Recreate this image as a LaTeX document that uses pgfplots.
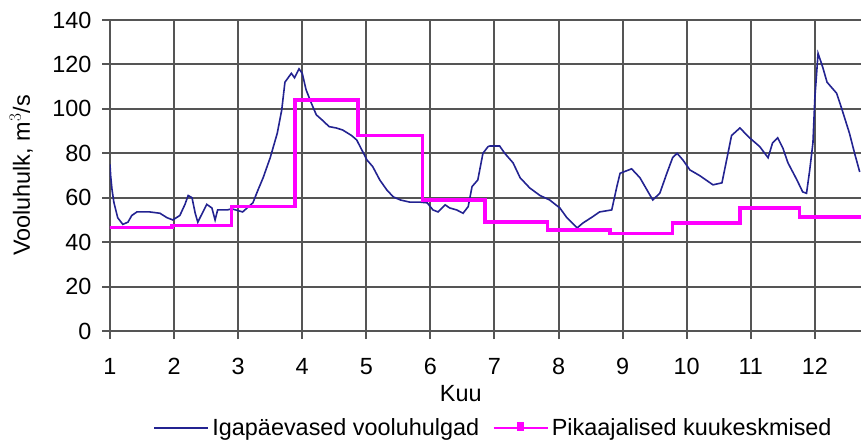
\documentclass[border=0pt]{standalone}
\usepackage{pgfplots}
\pgfplotsset{compat=1.18}
\usepackage{fontspec}
\setmainfont{Liberation Sans}

\definecolor{flowblue}{RGB}{35,35,145}
\definecolor{meanpink}{RGB}{255,0,255}
\definecolor{gridgray}{RGB}{85,85,85}

\begin{document}
\begin{tikzpicture}
\begin{axis}[
  scale only axis,
  width=751bp, height=311bp,
  xmin=1, xmax=12.72,
  ymin=0, ymax=140,
  xtick={1,...,12},
  ytick={0,20,...,140},
  axis x line*=bottom,
  axis y line*=left,
  axis line style={gridgray, line width=2bp},
  grid=major,
  major grid style={gridgray, line width=2bp},
  tick align=outside,
  major tick length=8bp,
  tick style={gridgray, line width=2bp},
  /pgf/number format/assume math mode=true,
  tick label style={font=\fontsize{23.5}{27}\selectfont},
  xticklabel style={yshift=-16bp},
  yticklabel style={xshift=-7bp},
  label style={font=\fontsize{23.5}{27}\selectfont},
  xlabel={Kuu},
  xlabel style={at={(axis description cs:0.467,-0.2)}, anchor=center},
  ylabel={Vooluhulk, m$^3$/s},
  ylabel style={at={(axis description cs:-0.118,0.5)}, anchor=center},
  legend columns=2,
  legend style={at={(axis description cs:0.511,-0.312)}, anchor=center, draw=none,
    font=\fontsize{23.5}{27}\selectfont, nodes={inner xsep=3bp},
    /tikz/every even column/.append style={column sep=10bp}},
]
% daily flows
\addplot[flowblue, line width=1.6bp, legend image code/.code={\draw[flowblue, line width=2.5bp] (0bp,0bp) -- (54bp,0bp);}] coordinates {
  (1.00,75) (1.01,70) (1.03,64) (1.06,58) (1.12,51) (1.20,48) (1.28,49) (1.34,52)
  (1.42,53.6) (1.62,53.6) (1.78,53) (1.89,51) (1.98,50) (2.09,52) (2.17,57)
  (2.22,61) (2.28,60) (2.33,53) (2.37,49) (2.44,53) (2.51,57) (2.59,55.4)
  (2.64,50) (2.68,54.5) (2.83,54.5) (2.90,55) (3.07,53.6) (3.23,57.7) (3.31,63.5)
  (3.39,69) (3.50,78) (3.61,89) (3.68,99.5) (3.73,112) (3.78,114) (3.83,116)
  (3.88,114) (3.95,118) (4.00,116) (4.06,108.6) (4.14,102.7) (4.22,97.3)
  (4.31,95) (4.42,92) (4.53,91.4) (4.63,90.5) (4.77,88) (4.85,86) (4.93,81.5)
  (5.01,77) (5.10,74) (5.21,68) (5.32,63.5) (5.42,60.4) (5.53,59) (5.68,58)
  (5.84,58) (5.95,57.7) (6.04,54.5) (6.12,53.6) (6.23,56.8) (6.30,55.4)
  (6.41,54.5) (6.51,53) (6.59,56) (6.65,65) (6.74,68) (6.82,80) (6.90,83)
  (6.93,83.3) (7.08,83.3) (7.16,80) (7.29,75.7) (7.40,69) (7.55,64.4) (7.71,61)
  (7.86,59) (8.02,55.4) (8.13,51) (8.29,46.4) (8.38,48.6) (8.53,51.4) (8.64,53.6)
  (8.83,54.5) (8.91,65) (8.96,71) (9.14,73) (9.27,69) (9.38,63.5) (9.47,59)
  (9.58,62) (9.69,71) (9.78,78) (9.85,80) (9.94,77) (10.05,72.5) (10.20,70)
  (10.41,65.8) (10.55,66.7) (10.63,78) (10.70,88) (10.83,91.4) (10.98,87)
  (11.14,83) (11.27,78) (11.34,84.7) (11.42,87) (11.50,82.4) (11.58,75.7)
  (11.72,68) (11.81,62.6) (11.87,62) (11.92,72.5) (11.97,84.7) (12.00,105)
  (12.05,125) (12.12,119) (12.19,112) (12.34,107) (12.42,100) (12.54,89)
  (12.62,80) (12.70,71.6)
};
\addlegendentry{Igapäevased vooluhulgad}
% long-term monthly means
\addplot[meanpink, line width=3.5bp, const plot, legend image code/.code={
    \draw[meanpink, line width=2.5bp] (0bp,0bp) -- (54bp,0bp);
    \fill[meanpink] (25bp,-1.5bp) rectangle (29bp,4bp);}] coordinates {
  (0.95,46.5) (1.97,47.5) (2.90,56) (3.89,104) (4.87,88) (5.88,59) (6.85,49)
  (7.83,45.5) (8.80,44) (9.78,48.6) (10.83,55.4) (11.76,51.4) (12.80,51.4)
};
\addlegendentry{Pikaajalised kuukeskmised}
\end{axis}
\pgfresetboundingbox
\path[use as bounding box] ([xshift=-110bp,yshift=-109bp]current axis.south west)
  rectangle ([yshift=20bp]current axis.north east);
\end{tikzpicture}
\end{document}
